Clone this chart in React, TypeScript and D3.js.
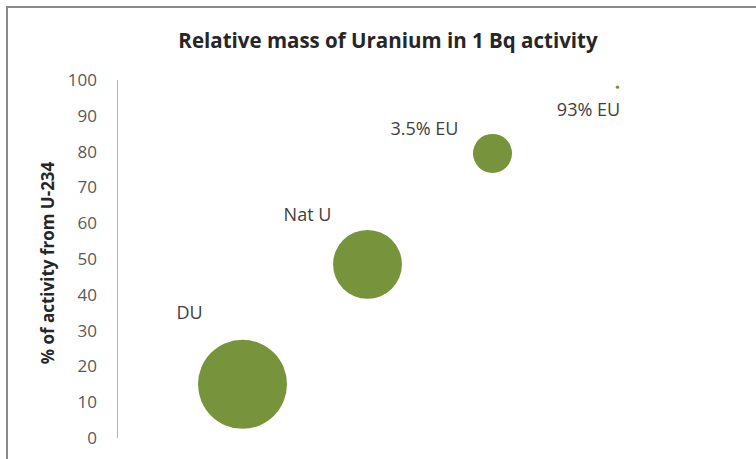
import React from "react";
import * as d3 from "d3";

// Bubble chart: share of activity from U-234 versus bubble size = relative mass per Bq
const categories = ["DU", "Nat U", "3.5% EU", "93% EU"];
const xValues = [1, 2, 3, 4];
const u234Share = [15, 48.5, 79.5, 98];
const relativeMass = [67.6, 40.5, 13, 0.1];
const yTicks = [0, 10, 20, 30, 40, 50, 60, 70, 80, 90, 100];

const W = 756;
const H = 459;
const plot = { left: 117.5, right: 742.5, top: 80, bottom: 438 };

// label offsets from bubble centre (dx, dy)
const labelOffsets: [number, number][] = [
  [-53, -72],
  [-60, -50],
  [-68, -25],
  [-29, 23],
];

const FONT = "'Open Sans', 'Noto Sans', sans-serif";

export default function App() {
  const x = d3.scaleLinear().domain([0, 5]).range([plot.left, plot.right]);
  const y = d3.scaleLinear().domain([0, 100]).range([plot.bottom, plot.top]);
  const r = d3
    .scaleSqrt()
    .domain([0, d3.max(relativeMass) as number])
    .range([0, 44.5]);

  return (
    <svg
      width={W}
      height={H}
      style={{ position: "absolute", left: 0, top: 0, background: "#fff" }}
      fontFamily={FONT}
    >
      <rect x={0} y={0} width={W} height={H} fill="#fff" />
      {/* chart frame */}
      <rect
        x={7}
        y={7}
        width={W + 20}
        height={H + 20}
        fill="none"
        stroke="#8a8a8a"
        strokeWidth={2}
      />
      <text
        x={388}
        y={48}
        textAnchor="middle"
        fontSize={20.5}
        fontWeight="bold"
        fill="#262626"
      >
        Relative mass of Uranium in 1 Bq activity
      </text>
      <text
        transform={`translate(54, 263) rotate(-90)`}
        textAnchor="middle"
        fontSize={17}
        fontWeight="bold"
        fill="#262626"
      >
        % of activity from U-234
      </text>
      {/* y axis */}
      <line
        x1={plot.left}
        x2={plot.left}
        y1={y(0)}
        y2={y(100)}
        stroke="#b3b3b3"
        strokeWidth={1}
      />
      {yTicks.map((t) => (
        <text
          key={t}
          x={97}
          y={y(t)}
          dy="0.35em"
          textAnchor="end"
          fontSize={17}
          fill="#595959"
        >
          {t}
        </text>
      ))}
      {categories.map((c, i) => (
        <g key={c}>
          <circle
            cx={x(xValues[i])}
            cy={y(u234Share[i])}
            r={Math.max(r(relativeMass[i]), 1.5)}
            fill="#77933c"
          />
          <text
            x={x(xValues[i]) + labelOffsets[i][0]}
            y={y(u234Share[i]) + labelOffsets[i][1]}
            dy="0.35em"
            textAnchor="middle"
            fontSize={18}
            fill="#404040"
          >
            {c}
          </text>
        </g>
      ))}
    </svg>
  );
}
